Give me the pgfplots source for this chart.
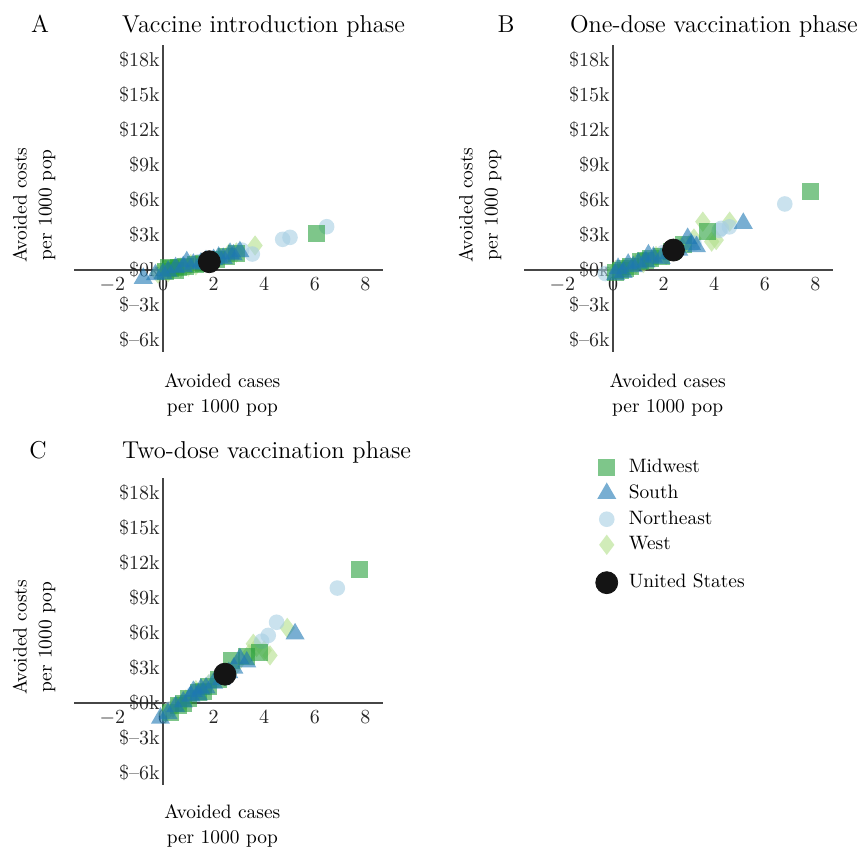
\documentclass[border=0pt]{standalone}
\usepackage{pgfplots}
\pgfplotsset{compat=1.18}
\definecolor{mwc}{RGB}{40,160,60}
\definecolor{soc}{RGB}{30,120,180}
\definecolor{nec}{RGB}{166,206,227}
\definecolor{wec}{RGB}{178,223,138}
\definecolor{axc}{RGB}{70,70,70}
\pgfplotsset{
  panel/.style={
    anchor=origin, x=12.65pt, y=5.835pt,
    xmin=-3.5, xmax=8.7, ymin=-7, ymax=19.3,
    axis lines=middle,
    axis line style={-, draw=axc, line width=1pt},
    major tick length=0pt,
    xtick={-2,2,4,6,8}, xticklabels={$-$2,2,4,6,8},
    ytick={-6,-3,3,6,9,12,15,18},
    yticklabels={\$--6k,\$--3k,\$3k,\$6k,\$9k,\$12k,\$15k,\$18k},
    extra x ticks={0}, extra x tick labels={0},
    extra y ticks={0}, extra y tick labels={\$0k},
    extra tick style={major tick length=0pt},
    tick label style={font=\fontsize{10}{12}\selectfont, text=black!85},
    yticklabel style={inner xsep=1.5pt},
    xlabel={Avoided cases\\per 1000 pop},
    ylabel={Avoided costs\\per 1000 pop},
    clip=false,
  },
  mw/.style={only marks, mark=square*, mark size=4.25pt, color=mwc,
    mark options={fill opacity=0.6, draw opacity=0}},
  so/.style={only marks, mark=triangle*, mark size=5.5pt, color=soc,
    mark options={fill opacity=0.6, draw opacity=0}},
  ne/.style={only marks, mark=*, mark size=3.9pt, color=nec,
    mark options={fill opacity=0.6, draw opacity=0}},
  we/.style={only marks, mark=diamond*, mark size=5.1pt, color=wec,
    mark options={fill opacity=0.6, draw opacity=0}},
  us/.style={only marks, mark=*, mark size=5.5pt, color=black!92},
}
\newcommand{\lblfont}{\fontsize{9.7}{12.5}\selectfont}
\newcommand{\ttlfont}{\fontsize{12.2}{14}\selectfont}
\begin{document}
\begin{tikzpicture}
\path[use as bounding box] (0,0) rectangle (431.5pt,-426.5pt);

% titles
\node[anchor=base, font=\ttlfont] at (20pt,-16pt) {A};
\node[anchor=base west, font=\ttlfont] at (57.5pt,-16pt) {Vaccine introduction phase};
\node[anchor=base, font=\ttlfont] at (253pt,-16pt) {B};
\node[anchor=base west, font=\ttlfont] at (281.5pt,-16pt) {One-dose vaccination phase};
\node[anchor=base, font=\ttlfont] at (19pt,-229pt) {C};
\node[anchor=base west, font=\ttlfont] at (57.5pt,-229pt) {Two-dose vaccination phase};

% Panel A
\begin{axis}[panel, at={(81.5pt,-135pt)},
  every axis x label/.style={at={(axis description cs:0.479,-0.14)}, anchor=center, align=center, font=\lblfont},
  every axis y label/.style={at={(axis description cs:-0.131,0.478)}, anchor=center, rotate=90, align=center, font=\lblfont}]
\addplot[we] coordinates {(3.64,2.10) (2.6,1.4) (0.1,0.0) (0.4,0.1) (0.7,0.2) (1.0,0.3) (1.3,0.4) (1.8,0.7) (2.2,1.0) (0.2,-0.2) (-0.2,-0.3) (1.1,0.5) (2.9,1.5)};
\addplot[ne] coordinates {(6.47,3.71) (5.02,2.80) (4.73,2.63) (3.53,1.37) (3.11,1.71) (2.4,1.2) (1.9,1.0) (0.7,0.4) (1.4,0.7)};
\addplot[mw] coordinates {(6.07,3.14) (0.3,0.1) (0.6,0.2) (0.9,0.3) (1.3,0.5) (2.1,0.9) (2.5,1.2) (0.1,-0.1) (0.5,0.0) (1.6,0.6) (2.9,1.4) (0.2,0.2)};
\addplot[so] coordinates {(-0.78,-0.71) (-0.3,-0.4) (0.2,-0.1) (0.5,0.2) (0.94,0.71) (1.2,0.5) (1.5,0.6) (2.0,0.9) (2.38,1.0) (2.65,1.43) (2.78,1.29) (3.04,1.57) (0.8,0.3) (1.7,0.8) (0.0,-0.3) (2.2,1.1)};
\addplot[us] coordinates {(1.83,0.71)};
\end{axis}

% Panel B
\begin{axis}[panel, at={(306.5pt,-135pt)},
  every axis x label/.style={at={(axis description cs:0.464,-0.14)}, anchor=center, align=center, font=\lblfont},
  every axis y label/.style={at={(axis description cs:-0.144,0.478)}, anchor=center, rotate=90, align=center, font=\lblfont}]
\addplot[we] coordinates {(4.61,4.14) (3.55,4.14) (4.08,2.57) (3.9,2.43) (3.2,2.7) (2.7,2.0) (2.4,1.8) (1.7,1.2) (1.2,0.6) (0.9,0.5) (0.4,0.1) (0.1,0.0) (2.1,1.3)};
\addplot[ne] coordinates {(6.79,5.66) (4.6,3.7) (4.28,3.57) (4.2,3.4) (3.2,2.3) (1.2,0.9) (0.5,0.2) (-0.3,-0.3) (2.0,1.5)};
\addplot[mw] coordinates {(7.81,6.71) (3.75,3.29) (0.3,0.0) (0.7,0.3) (1.1,0.7) (1.5,1.0) (1.9,1.2) (2.3,1.6) (2.8,2.2) (0.5,0.1) (1.3,0.8) (0.1,-0.2)};
\addplot[so] coordinates {(5.15,4.0) (2.95,2.71) (3.3,2.0) (2.6,1.7) (0.2,0.14) (0.4,-0.2) (0.8,0.3) (1.0,0.6) (1.3,0.7) (1.6,1.1) (1.9,1.0) (2.2,1.4) (0.6,0.5) (1.4,1.3) (3.1,2.2) (0.1,-0.4)};
\addplot[us] coordinates {(2.39,1.71)};
\end{axis}

% Panel C
\begin{axis}[panel, at={(81.5pt,-351.5pt)},
  every axis x label/.style={at={(axis description cs:0.479,-0.135)}, anchor=center, align=center, font=\lblfont},
  every axis y label/.style={at={(axis description cs:-0.131,0.48)}, anchor=center, rotate=90, align=center, font=\lblfont},
  legend style={at={(axis description cs:1.668,1.074)}, anchor=north west, draw=none, fill=none,
    font=\lblfont, row sep=0.6pt, column sep=3.5pt, inner sep=0pt},
  legend cell align=left]
\addlegendimage{mw}\addlegendentry{Midwest}
\addlegendimage{so}\addlegendentry{South}
\addlegendimage{ne}\addlegendentry{Northeast}
\addlegendimage{we}\addlegendentry{West}
\addlegendimage{empty legend}\addlegendentry[font=\fontsize{3}{3}\selectfont]{}
\addlegendimage{us}\addlegendentry{United States}
\addplot[we, forget plot] coordinates {(4.91,6.44) (4.23,4.08) (3.57,5.08) (3.7,4.8) (4.0,4.5) (3.4,4.2) (2.9,3.3) (2.4,2.6) (1.8,1.6) (1.3,1.1) (0.9,0.3) (0.4,-0.4) (0.1,-0.9)};
\addplot[ne, forget plot] coordinates {(6.89,9.85) (4.49,6.92) (4.16,5.79) (3.9,5.3) (2.0,1.9) (1.2,0.8) (0.6,-0.1) (2.5,2.3) (0.3,-0.5)};
\addplot[mw, forget plot] coordinates {(7.75,11.46) (3.83,4.37) (2.71,3.66) (0.3,-0.8) (0.6,-0.2) (1.0,0.4) (1.4,0.9) (1.8,1.4) (2.2,2.0) (0.8,0.0) (1.6,1.0) (3.3,4.0)};
\addplot[so, forget plot] coordinates {(5.22,5.93) (3.31,3.52) (3.04,3.8) (2.6,2.6) (2.3,2.0) (2.0,1.7) (1.7,1.3) (1.4,0.7) (1.1,0.6) (0.8,0.1) (0.5,-0.3) (-0.1,-1.3) (0.2,-0.9) (1.5,1.2) (2.8,3.0) (1.2,1.0)};
\addplot[us, forget plot] coordinates {(2.45,2.47)};
\end{axis}
\end{tikzpicture}
\end{document}
